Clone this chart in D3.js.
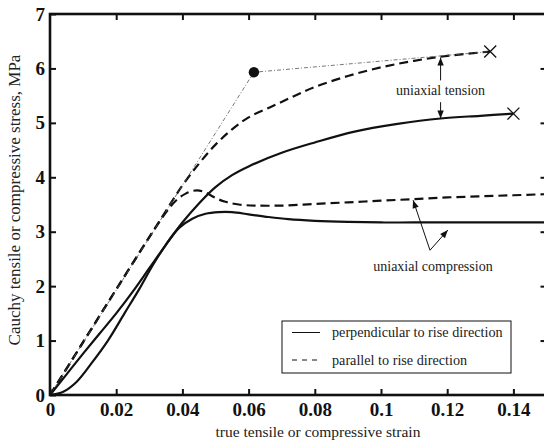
<!DOCTYPE html>
<html>
<head>
<meta charset="utf-8">
<script src="https://cdn.jsdelivr.net/npm/d3@7"></script>
<style>
  html, body { margin: 0; padding: 0; background: #fff; }
  svg { display: block; }
</style>
</head>
<body>
<svg id="chart" width="544" height="444"></svg>
<script>
// Stress–strain curves of foam: strain (-) vs Cauchy stress (MPa)
const xTicks = [0, 0.02, 0.04, 0.06, 0.08, 0.1, 0.12, 0.14];
const xTickLabels = ["0", "0.02", "0.04", "0.06", "0.08", "0.1", "0.12", "0.14"];
const yTicks = [0, 1, 2, 3, 4, 5, 6, 7];
const yTickLabels = ["0", "1", "2", "3", "4", "5", "6", "7"];

// perpendicular to rise direction, uniaxial tension (solid)
const perpTensionStrain = [0, 0.005, 0.01, 0.015, 0.02, 0.025, 0.03, 0.035, 0.04, 0.045, 0.05, 0.055, 0.06, 0.07, 0.08, 0.092, 0.105, 0.118, 0.13, 0.14];
const perpTensionStress = [0, 0.38, 0.76, 1.13, 1.5, 1.9, 2.33, 2.76, 3.17, 3.52, 3.82, 4.04, 4.2, 4.45, 4.64, 4.84, 4.98, 5.08, 5.13, 5.17];

// perpendicular to rise direction, uniaxial compression (solid)
const perpCompStrain = [0, 0.004, 0.008, 0.0125, 0.0175, 0.0225, 0.027, 0.031, 0.035, 0.039, 0.043, 0.047, 0.051, 0.055, 0.06, 0.066, 0.072, 0.08, 0.09, 0.1, 0.11, 0.12, 0.13, 0.14, 0.15];
const perpCompStress = [0, 0.06, 0.24, 0.58, 1.0, 1.5, 1.95, 2.38, 2.76, 3.07, 3.24, 3.33, 3.36, 3.36, 3.32, 3.27, 3.23, 3.2, 3.18, 3.17, 3.17, 3.17, 3.17, 3.17, 3.17];

// parallel to rise direction, uniaxial tension (dashed)
const paraTensionStrain = [0, 0.01, 0.02, 0.03, 0.035, 0.04, 0.045, 0.05, 0.055, 0.06, 0.067, 0.074, 0.08, 0.09, 0.1, 0.11, 0.12, 0.133];
const paraTensionStress = [0, 0.97, 1.94, 2.9, 3.38, 3.85, 4.25, 4.6, 4.88, 5.1, 5.3, 5.5, 5.66, 5.86, 6.02, 6.14, 6.23, 6.31];

// parallel to rise direction, uniaxial compression (dashed)
const paraCompStrain = [0, 0.01, 0.02, 0.03, 0.035, 0.038, 0.041, 0.0443, 0.047, 0.05, 0.053, 0.057, 0.062, 0.07, 0.08, 0.09, 0.1, 0.11, 0.12, 0.13, 0.14, 0.15];
const paraCompStress = [0, 0.97, 1.94, 2.9, 3.35, 3.57, 3.7, 3.76, 3.72, 3.62, 3.55, 3.5, 3.48, 3.48, 3.51, 3.54, 3.57, 3.6, 3.63, 3.65, 3.67, 3.69];

// thin dash-dot guide: origin -> filled dot -> tension failure (parallel)
const guideStrain = [0, 0.0616, 0.133];
const guideStress = [0, 5.93, 6.31];

// failure points (crosses)
const failStrain = [0.14, 0.133];
const failStress = [5.17, 6.31];

const legendLabels = ["perpendicular to rise direction", "parallel to rise direction"];

const svg = d3.select("#chart");
const W = 544, H = 444;
const margin = { left: 50, top: 14, right: -2.5, bottom: 49 };
const x = d3.scaleLinear().domain([0, 0.15]).range([margin.left, W - margin.right]);
const y = d3.scaleLinear().domain([0, 7]).range([H - margin.bottom, margin.top]);

const serif = "'Liberation Serif', 'Times New Roman', serif";

function zip(xs, ys) { return xs.map((v, i) => [v, ys[i]]); }

const line = d3.line().x(d => x(d[0])).y(d => y(d[1])).curve(d3.curveCatmullRom.alpha(0.5));

const plot = svg.append("g");

// curves
const curves = [
  { data: zip(perpCompStrain, perpCompStress), dash: null },
  { data: zip(perpTensionStrain, perpTensionStress), dash: null },
  { data: zip(paraCompStrain, paraCompStress), dash: "9,5" },
  { data: zip(paraTensionStrain, paraTensionStress), dash: "9,5" }
];
curves.forEach(c => {
  plot.append("path")
    .attr("d", line(c.data))
    .attr("fill", "none")
    .attr("stroke", "#111")
    .attr("stroke-width", 2.2)
    .attr("stroke-dasharray", c.dash);
});

// dash-dot guide line
plot.append("path")
  .attr("d", d3.line().x(d => x(d[0])).y(d => y(d[1]))(zip(guideStrain, guideStress)))
  .attr("fill", "none")
  .attr("stroke", "#555")
  .attr("stroke-width", 0.8)
  .attr("stroke-dasharray", "4,2,1,2");

plot.append("circle")
  .attr("cx", x(guideStrain[1]))
  .attr("cy", y(guideStress[1]))
  .attr("r", 5.2)
  .attr("fill", "#111");

// failure crosses
const cs = 6;
zip(failStrain, failStress).forEach(([sx, sy]) => {
  const cx = x(sx), cy = y(sy);
  plot.append("path")
    .attr("d", `M${cx - cs},${cy - cs}L${cx + cs},${cy + cs}M${cx - cs},${cy + cs}L${cx + cs},${cy - cs}`)
    .attr("stroke", "#111")
    .attr("stroke-width", 1.3)
    .attr("fill", "none");
});

// arrowhead marker
svg.append("defs").append("marker")
  .attr("id", "arrow")
  .attr("viewBox", "0 0 10 10")
  .attr("refX", 10).attr("refY", 5)
  .attr("markerWidth", 10).attr("markerHeight", 8)
  .attr("markerUnits", "userSpaceOnUse")
  .attr("orient", "auto")
  .append("path")
  .attr("d", "M0,1 L10,5 L0,9 Z")
  .attr("fill", "#111");

function arrow(x0, y0, x1, y1) {
  plot.append("line")
    .attr("x1", x(x0)).attr("y1", y(y0))
    .attr("x2", x(x1)).attr("y2", y(y1))
    .attr("stroke", "#111")
    .attr("stroke-width", 1)
    .attr("marker-end", "url(#arrow)");
}

// uniaxial tension annotation
arrow(0.118, 5.78, 0.118, 6.2);
arrow(0.118, 5.38, 0.118, 5.08);
plot.append("text")
  .attr("x", x(0.118)).attr("y", y(5.51))
  .attr("text-anchor", "middle")
  .attr("font-family", serif)
  .attr("font-size", 14)
  .attr("fill", "#222")
  .text("uniaxial tension");

// uniaxial compression annotation
arrow(0.1148, 2.66, 0.1097, 3.58);
arrow(0.1148, 2.66, 0.1202, 3.03);
plot.append("text")
  .attr("x", x(0.1157)).attr("y", y(2.27))
  .attr("text-anchor", "middle")
  .attr("font-family", serif)
  .attr("font-size", 14)
  .attr("fill", "#222")
  .text("uniaxial compression");

// frame
const x0 = x(0), x1 = x(0.15), y0 = y(0), y1 = y(7);
svg.append("rect")
  .attr("x", x0).attr("y", y1)
  .attr("width", x1 - x0).attr("height", y0 - y1)
  .attr("fill", "none")
  .attr("stroke", "#111")
  .attr("stroke-width", 2.6);

// inward ticks on all four sides
const tl = 6;
const axBottom = d3.axisBottom(x).tickValues(xTicks).tickSize(-tl).tickPadding(8)
  .tickFormat((d, i) => xTickLabels[i]);
const axTop = d3.axisTop(x).tickValues(xTicks.slice(1)).tickSize(-tl).tickFormat("");
const axLeft = d3.axisLeft(y).tickValues(yTicks).tickSize(-tl).tickPadding(5)
  .tickFormat((d, i) => yTickLabels[i]);
const axRight = d3.axisRight(y).tickValues(yTicks.slice(1, -1)).tickSize(-tl).tickFormat("");

function styleAxis(g) {
  g.select(".domain").remove();
  g.selectAll(".tick line").attr("stroke", "#111").attr("stroke-width", 2);
  g.selectAll("text")
    .attr("font-family", serif)
    .attr("font-weight", "bold")
    .attr("font-size", 19)
    .attr("fill", "#111");
}
svg.append("g").attr("transform", `translate(0,${y0})`).call(axBottom).call(styleAxis);
svg.append("g").attr("transform", `translate(0,${y1})`).call(axTop).call(styleAxis);
svg.append("g").attr("transform", `translate(${x0},0)`).call(axLeft).call(styleAxis);
svg.append("g").attr("transform", `translate(${x1},0)`).call(axRight).call(styleAxis);

// axis titles
svg.append("text")
  .attr("x", 318).attr("y", 437)
  .attr("text-anchor", "middle")
  .attr("font-family", serif)
  .attr("font-size", 15.5)
  .attr("fill", "#222")
  .text("true tensile or compressive strain");

svg.append("text")
  .attr("transform", `translate(20,200) rotate(-90)`)
  .attr("text-anchor", "middle")
  .attr("font-family", serif)
  .attr("font-size", 17)
  .attr("fill", "#222")
  .text("Cauchy tensile or compressive stress, MPa");

// legend
const lg = svg.append("g").attr("transform", "translate(282,321)");
lg.append("rect")
  .attr("width", 229).attr("height", 52)
  .attr("fill", "#fff")
  .attr("stroke", "#111")
  .attr("stroke-width", 1);
[null, "5,5"].forEach((dash, i) => {
  const ly = 11.5 + i * 27.5;
  lg.append("line")
    .attr("x1", 10).attr("x2", 38)
    .attr("y1", ly).attr("y2", ly)
    .attr("stroke", "#111")
    .attr("stroke-width", 1)
    .attr("stroke-dasharray", dash);
  lg.append("text")
    .attr("x", 50).attr("y", ly + 4.5)
    .attr("font-family", serif)
    .attr("font-size", 14.2)
    .attr("fill", "#222")
    .text(legendLabels[i]);
});
</script>
</body>
</html>
